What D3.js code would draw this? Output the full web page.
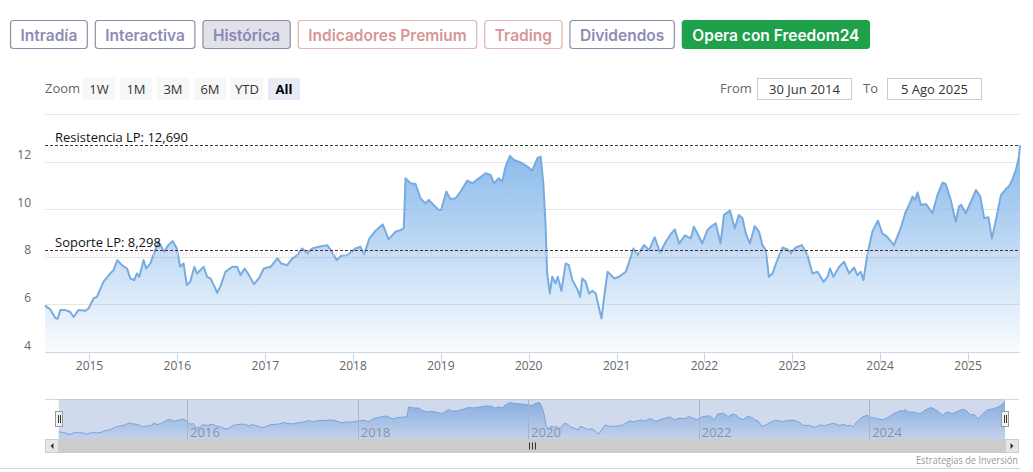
<!DOCTYPE html>
<html>
<head>
<meta charset="utf-8">
<script src="https://cdn.jsdelivr.net/npm/d3@7"></script>
<style>
  body { margin: 0; background: #fff; }
  svg { display: block; }
</style>
</head>
<body>
<script>
// price history
const dates = [
  '2014-06-30','2014-07-22','2014-08-12','2014-08-22','2014-09-02','2014-09-23','2014-10-13','2014-10-27','2014-11-16','2014-12-14','2014-12-28',
  '2015-01-18','2015-02-01','2015-02-28','2015-03-28','2015-04-11','2015-04-27','2015-05-16','2015-06-06','2015-06-20','2015-07-06','2015-07-17','2015-07-27','2015-08-14','2015-08-25','2015-09-11','2015-10-01','2015-10-15','2015-11-08','2015-11-25','2015-12-13','2015-12-30',
  '2016-01-13','2016-01-27','2016-02-10','2016-02-24','2016-03-12','2016-03-23','2016-04-20','2016-05-04','2016-05-18','2016-06-01','2016-06-15','2016-06-29','2016-07-19','2016-08-17','2016-09-06','2016-09-20','2016-10-07','2016-10-25','2016-11-15','2016-12-05','2016-12-26',
  '2017-01-23','2017-02-20','2017-03-08','2017-04-02','2017-04-23','2017-05-14','2017-06-04','2017-06-25','2017-07-15','2017-08-12','2017-09-16','2017-09-30','2017-10-25','2017-11-10','2017-12-08',
  '2018-01-11','2018-02-01','2018-02-15','2018-03-10','2018-04-03','2018-05-04','2018-05-29','2018-06-26','2018-07-17','2018-07-31','2018-08-07','2018-08-28','2018-09-18','2018-10-08','2018-10-29','2018-11-12','2018-12-02','2018-12-23',
  '2019-01-02','2019-01-24','2019-02-10','2019-03-03','2019-03-24','2019-04-21','2019-05-12','2019-06-08','2019-07-06','2019-07-27','2019-08-10','2019-08-30','2019-09-13','2019-09-27','2019-10-15','2019-11-01','2019-11-29','2019-12-27',
  '2020-01-16','2020-02-06','2020-02-20','2020-03-02','2020-03-11','2020-03-18','2020-03-29','2020-04-08','2020-04-22','2020-05-01','2020-05-16','2020-06-03','2020-06-16','2020-07-01','2020-07-22','2020-08-02','2020-08-11','2020-08-25','2020-09-08','2020-09-22','2020-10-06','2020-10-20','2020-10-30','2020-11-10','2020-11-24','2020-12-22',
  '2021-01-11','2021-02-08','2021-02-22','2021-03-12','2021-03-29','2021-04-25','2021-05-16','2021-06-08','2021-07-01','2021-07-24','2021-08-14','2021-08-31','2021-09-18','2021-10-12','2021-11-05','2021-11-18','2021-12-03','2021-12-23',
  '2022-01-13','2022-01-27','2022-02-17','2022-03-09','2022-03-23','2022-04-17','2022-05-07','2022-05-24','2022-06-08','2022-06-22','2022-07-09','2022-07-29','2022-08-16','2022-08-30','2022-09-13','2022-09-26','2022-10-11','2022-10-28','2022-11-22','2022-12-12','2022-12-26',
  '2023-01-16','2023-02-10','2023-03-05','2023-03-26','2023-04-16','2023-05-11','2023-05-28','2023-06-07','2023-06-21','2023-07-15','2023-08-05','2023-08-25','2023-09-15','2023-09-29','2023-10-13','2023-10-24','2023-11-09','2023-11-30','2023-12-23',
  '2024-01-11','2024-01-31','2024-02-28','2024-03-27','2024-04-17','2024-05-01','2024-05-15','2024-05-25','2024-06-05','2024-06-19','2024-07-09','2024-07-23','2024-08-06','2024-08-27','2024-09-17','2024-09-30','2024-10-21','2024-11-11','2024-11-24','2024-12-04','2024-12-22',
  '2025-01-13','2025-02-03','2025-02-21','2025-03-09','2025-03-27','2025-04-10','2025-04-27','2025-05-18','2025-06-07','2025-06-21','2025-07-05','2025-07-19','2025-08-01','2025-08-05'
];
const prices = [
  5.95,5.79,5.43,5.40,5.76,5.76,5.68,5.47,5.76,5.73,5.83,
  6.25,6.32,6.95,7.30,7.44,7.86,7.65,7.51,7.09,7.02,7.30,7.16,7.86,7.51,7.72,8.28,8.63,8.21,8.49,8.66,8.35,
  7.58,7.72,6.81,6.95,7.58,7.30,7.58,7.16,7.09,6.81,6.49,6.77,7.37,7.58,7.58,7.23,7.51,7.23,6.85,7.09,7.51,
  7.58,7.93,7.72,7.65,7.93,8.07,8.35,8.14,8.35,8.42,8.49,8.28,7.86,8.03,8.07,
  8.35,8.42,8.09,8.77,9.08,9.36,8.73,9.05,9.12,9.20,11.30,11.09,11.06,10.46,10.25,10.39,10.18,9.97,
  9.97,10.74,10.42,10.46,10.74,11.20,11.09,11.30,11.51,11.44,11.09,11.30,11.16,11.79,12.24,12.07,11.96,11.79,
  11.62,12.14,12.21,11.09,9.41,7.30,6.46,7.16,6.88,7.16,6.57,7.72,7.65,7.02,6.63,6.32,7.09,6.95,6.46,6.57,6.46,5.83,5.41,6.32,7.37,7.09,
  7.16,7.37,7.79,8.35,8.07,8.49,8.28,8.82,8.17,8.63,8.96,9.15,8.56,8.90,8.77,9.26,8.98,8.56,
  9.12,9.26,9.41,8.56,9.76,9.94,9.20,9.76,9.62,8.98,8.56,9.29,9.05,8.49,8.28,7.16,7.30,7.79,8.39,8.31,8.14,
  8.39,8.49,8.07,7.30,7.37,6.95,7.16,7.51,7.16,7.58,7.79,7.30,7.55,7.23,7.37,7.02,8.07,9.05,9.52,
  8.98,8.84,8.49,9.20,9.90,10.18,10.53,10.39,10.70,10.18,10.22,10.04,9.83,10.60,11.12,11.06,10.39,9.47,10.11,10.18,9.83,
  10.32,10.81,10.53,9.62,9.66,8.77,9.55,10.60,10.84,10.98,11.26,11.65,12.21,12.69
];

const levelNames = ['Resistencia LP', 'Soporte LP'];
const levelValues = [12.69, 8.298];
const levelColors = ['#24452a', '#5a2232'];

const yGridTicks = [4, 6, 8, 10, 12, 14];
const yLabelTicks = [4, 6, 8, 10, 12];
const xYears = [2015, 2016, 2017, 2018, 2019, 2020, 2021, 2022, 2023, 2024, 2025];
const navYears = [2016, 2018, 2020, 2022, 2024];

const tabLabels = ['Intradía', 'Interactiva', 'Histórica', 'Indicadores Premium', 'Trading', 'Dividendos', 'Opera con Freedom24'];
const tabKinds = ['plain', 'plain', 'active', 'premium', 'premium', 'plain', 'cta'];
const zoomLabels = ['1W', '1M', '3M', '6M', 'YTD', 'All'];
const rangeFrom = '30 Jun 2014';
const rangeTo = '5 Ago 2025';
const credit = 'Estrategias de Inversión';

const W = 1033, H = 472;
const parse = d3.timeParse('%Y-%m-%d');
const series = dates.map((d, i) => ({ date: parse(d), value: prices[i] }));
const es = d3.formatLocale({ decimal: ',', thousands: '.', grouping: [3], currency: ['', '€'] });
const fmt3 = es.format('.3f');

const plot = { left: 45, right: 1020, top: 114, bottom: 352 };
const nav = { left: 58.7, right: 1005, top: 399.5, bottom: 439 };

const svg = d3.select('body').append('svg')
    .attr('width', W)
    .attr('height', H)
    .style('font-family', '"Open Sans", sans-serif');

const defs = svg.append('defs');

// ---- tabs row
const tabStyle = {
    plain:   { fill: '#fff',    stroke: '#8f8eaa', text: '#8d8cb5' },
    active:  { fill: '#e1e1ea', stroke: '#8f8eaa', text: '#8a88b4' },
    premium: { fill: '#fff',    stroke: '#e0b2b2', text: '#d69596' },
    cta:     { fill: '#1fa04a', stroke: '#1fa04a', text: '#fff' }
};
let tx = 10.5;
tabLabels.forEach((label, i) => {
    const st = tabStyle[tabKinds[i]];
    const g = svg.append('g');
    const rect = g.append('rect');
    const t = g.append('text')
        .attr('y', 40.5)
        .attr('text-anchor', 'middle')
        .style('font-family', 'Inter, sans-serif')
        .style('font-weight', 600)
        .style('font-size', '15.5px')
        .style('fill', st.text)
        .text(label);
    const w = t.node().getComputedTextLength() + 20;
    t.attr('x', tx + w / 2);
    rect.attr('x', tx).attr('y', 20.5).attr('width', w).attr('height', 28)
        .attr('rx', 3)
        .style('fill', st.fill)
        .style('stroke', st.stroke)
        .style('stroke-width', 1.2);
    tx += w + 8;
});

// ---- range selector
svg.append('text').attr('x', 45).attr('y', 93)
    .style('font-size', '13px').style('fill', '#666').text('Zoom');
zoomLabels.forEach((label, i) => {
    const bx = 83 + i * 37;
    const active = label === 'All';
    svg.append('rect').attr('x', bx).attr('y', 78).attr('width', 32).attr('height', 22)
        .style('fill', active ? '#e6ebf5' : '#f7f7f7');
    svg.append('text').attr('x', bx + 16).attr('y', 93.5)
        .attr('text-anchor', 'middle')
        .style('font-size', '13px')
        .style('font-weight', active ? 700 : 400)
        .style('fill', active ? '#000' : '#333')
        .text(label);
});
[['From', 720, 757, rangeFrom], ['To', 863, 887, rangeTo]].forEach(([lab, lx, bx, val]) => {
    svg.append('text').attr('x', lx).attr('y', 93)
        .style('font-size', '13px').style('fill', '#666').text(lab);
    svg.append('rect').attr('x', bx + 0.5).attr('y', 78.5).attr('width', 94).attr('height', 21)
        .style('fill', '#fff').style('stroke', '#ccc');
    svg.append('text').attr('x', bx + 47.5).attr('y', 93.5)
        .attr('text-anchor', 'middle')
        .style('font-size', '13px').style('fill', '#333').text(val);
});

// ---- main chart
const x = d3.scaleTime()
    .domain([series[0].date, series[series.length - 1].date])
    .range([plot.left, plot.right]);
const y = d3.scaleLinear().domain([4, 14]).range([plot.bottom, plot.top]);

svg.append('g').selectAll('line')
    .data(yGridTicks.slice(1))
    .enter().append('line')
    .attr('x1', plot.left).attr('x2', plot.right)
    .attr('y1', d => Math.round(y(d)) + 0.5).attr('y2', d => Math.round(y(d)) + 0.5)
    .style('stroke', '#e6e6e6');

const grad = defs.append('linearGradient').attr('id', 'mainFill')
    .attr('gradientUnits', 'userSpaceOnUse')
    .attr('x1', 0).attr('x2', 0)
    .attr('y1', y(d3.max(prices))).attr('y2', plot.bottom);
grad.append('stop').attr('offset', 0).attr('stop-color', '#7cb2e9').attr('stop-opacity', 0.92);
grad.append('stop').attr('offset', 1).attr('stop-color', '#7cb2e9').attr('stop-opacity', 0.04);

const area = d3.area().x(d => x(d.date)).y0(plot.bottom).y1(d => y(d.value));
const line = d3.line().x(d => x(d.date)).y(d => y(d.value));

svg.append('path').datum(series).attr('d', area).style('fill', 'url(#mainFill)');
svg.append('path').datum(series).attr('d', line)
    .style('fill', 'none')
    .style('stroke', '#78abdf')
    .style('stroke-width', 2)
    .style('stroke-linejoin', 'round');

// support / resistance lines
levelValues.forEach((v, i) => {
    const ly = Math.round(y(v)) + 0.5;
    svg.append('line')
        .attr('x1', plot.left).attr('x2', plot.right)
        .attr('y1', ly + 3.5).attr('y2', ly + 3.5)
        .style('stroke', 'rgba(225,228,232,0.55)')
        .style('stroke-width', 5)
        .style('stroke-dasharray', '1,2');
    svg.append('line')
        .attr('x1', plot.left).attr('x2', plot.right)
        .attr('y1', ly).attr('y2', ly)
        .style('stroke', levelColors[i])
        .style('stroke-width', 1)
        .style('stroke-dasharray', '3,2');
    svg.append('text')
        .attr('x', 55).attr('y', ly - 4)
        .style('font-size', '13px')
        .style('fill', '#111')
        .text(`${levelNames[i]}: ${fmt3(v)}`);
});

// axes
svg.append('line')
    .attr('x1', plot.left).attr('x2', plot.right)
    .attr('y1', plot.bottom + 0.5).attr('y2', plot.bottom + 0.5)
    .style('stroke', '#ccd6eb');

const xTickDates = xYears.map(yr => new Date(yr, 0, 1));
svg.append('g').selectAll('line')
    .data(xTickDates)
    .enter().append('line')
    .attr('x1', d => Math.round(x(d)) + 0.5).attr('x2', d => Math.round(x(d)) + 0.5)
    .attr('y1', plot.bottom).attr('y2', plot.bottom + 10)
    .style('stroke', '#ccd6eb');
svg.append('g').selectAll('text')
    .data(xTickDates)
    .enter().append('text')
    .attr('x', d => x(d)).attr('y', plot.bottom + 18)
    .attr('text-anchor', 'middle')
    .style('font-size', '12px').style('fill', '#666')
    .text(d => d.getFullYear());

svg.append('g').selectAll('text')
    .data(yLabelTicks)
    .enter().append('text')
    .attr('x', 31).attr('y', d => y(d) - 2.5)
    .attr('text-anchor', 'end')
    .style('font-size', '12px').style('fill', '#666')
    .text(d => d);

// ---- navigator
const nx = d3.scaleTime().domain(x.domain()).range([nav.left, nav.right]);
const ny = d3.scaleLinear().domain([d3.min(prices) - 1, d3.max(prices)]).range([nav.bottom, nav.top + 1]);

svg.append('line')
    .attr('x1', 45).attr('x2', 1019).attr('y1', nav.top).attr('y2', nav.top)
    .style('stroke', '#d8d8d8');

const navGrad = defs.append('linearGradient').attr('id', 'navFill')
    .attr('gradientUnits', 'userSpaceOnUse')
    .attr('x1', 0).attr('x2', 0).attr('y1', nav.top).attr('y2', nav.bottom);
navGrad.append('stop').attr('offset', 0).attr('stop-color', '#7cb2e9').attr('stop-opacity', 0.85);
navGrad.append('stop').attr('offset', 1).attr('stop-color', '#7cb2e9').attr('stop-opacity', 0.15);

const navArea = d3.area().x(d => nx(d.date)).y0(nav.bottom).y1(d => ny(d.value));
const navLine = d3.line().x(d => nx(d.date)).y(d => ny(d.value));
svg.append('path').datum(series).attr('d', navArea).style('fill', 'url(#navFill)');
svg.append('path').datum(series).attr('d', navLine)
    .style('fill', 'none').style('stroke', '#7cb2e9').style('stroke-width', 1);

const navTickDates = navYears.map(yr => new Date(yr, 0, 1));
svg.append('g').selectAll('line')
    .data(navTickDates)
    .enter().append('line')
    .attr('x1', d => Math.round(nx(d)) + 0.5).attr('x2', d => Math.round(nx(d)) + 0.5)
    .attr('y1', nav.top).attr('y2', nav.bottom)
    .style('stroke', '#c8c8c8');
svg.append('g').selectAll('text')
    .data(navTickDates)
    .enter().append('text')
    .attr('x', d => nx(d) + 3).attr('y', 437)
    .style('font-size', '13px').style('fill', '#999')
    .text(d => d.getFullYear());

svg.append('rect')
    .attr('x', nav.left).attr('y', nav.top)
    .attr('width', nav.right - nav.left).attr('height', nav.bottom - nav.top)
    .style('fill', 'rgba(102,133,194,0.3)');

// handles
[nav.left, nav.right].forEach(hx => {
    const cx = Math.round(hx);
    svg.append('rect').attr('x', cx - 3.5).attr('y', 411.5).attr('width', 7).attr('height', 15)
        .style('fill', '#f2f2f2').style('stroke', '#999');
    [-1, 1].forEach(o => svg.append('line')
        .attr('x1', cx + o + 0.5).attr('x2', cx + o + 0.5).attr('y1', 415).attr('y2', 423)
        .style('stroke', '#333'));
});

// scrollbar
svg.append('rect').attr('x', 45).attr('y', 439).attr('width', 974).attr('height', 14)
    .style('fill', '#f2f2f2');
svg.append('rect').attr('x', nav.left).attr('y', 439).attr('width', nav.right - nav.left).attr('height', 14)
    .style('fill', '#cccccc');
const gx = Math.round((nav.left + nav.right) / 2);
[-3, 0, 3].forEach(o => svg.append('line')
    .attr('x1', gx + o + 0.5).attr('x2', gx + o + 0.5).attr('y1', 442.5).attr('y2', 449.5)
    .style('stroke', '#333'));
[[45, -1], [1005, 1]].forEach(([bx, dir]) => {
    svg.append('rect').attr('x', bx + 0.5).attr('y', 439.5).attr('width', 13).attr('height', 13)
        .style('fill', '#e6e6e6').style('stroke', '#ccc');
    const c = bx + 7, m = 446;
    svg.append('path')
        .attr('d', `M${c - dir * 1.5},${m - 3}L${c + dir * 1.5},${m}L${c - dir * 1.5},${m + 3}Z`)
        .style('fill', '#333');
});

// credit and bottom rule
svg.append('text')
    .attr('x', 1018).attr('y', 464)
    .attr('text-anchor', 'end')
    .attr('textLength', 102).attr('lengthAdjust', 'spacingAndGlyphs')
    .style('font-size', '10px').style('fill', '#999')
    .text(credit);
svg.append('line')
    .attr('x1', 0).attr('x2', 1020).attr('y1', 468.5).attr('y2', 468.5)
    .style('stroke', '#d0d0d0');
</script>
</body>
</html>
